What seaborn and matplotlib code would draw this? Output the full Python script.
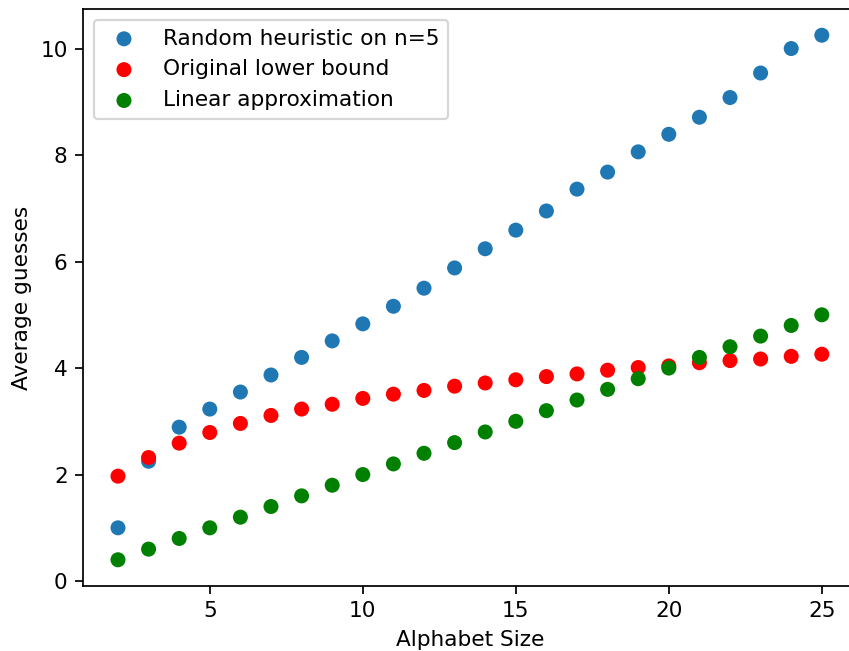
import matplotlib
matplotlib.use("Agg")
import matplotlib.pyplot as plt
import seaborn as sns
import pandas as pd

alphabet_size = list(range(2, 26))
random_heuristic = [1.0, 2.25, 2.89, 3.23, 3.55, 3.87, 4.2, 4.51, 4.83, 5.16, 5.5, 5.88,
                    6.24, 6.59, 6.95, 7.36, 7.68, 8.06, 8.39, 8.71, 9.08, 9.54, 10.0, 10.25]
lower_bound = [1.97, 2.32, 2.59, 2.79, 2.96, 3.11, 3.23, 3.32, 3.43, 3.51, 3.58, 3.66,
               3.72, 3.78, 3.84, 3.89, 3.96, 4.01, 4.04, 4.1, 4.14, 4.17, 4.22, 4.26]
linear_approx = [0.4, 0.6, 0.8, 1.0, 1.2, 1.4, 1.6, 1.8, 2.0, 2.2, 2.4, 2.6,
                 2.8, 3.0, 3.2, 3.4, 3.6, 3.8, 4.0, 4.2, 4.4, 4.6, 4.8, 5.0]

labels = ["Random heuristic on n=5", "Original lower bound", "Linear approximation"]
colors = ["#1f77b4", "red", "green"]

df = pd.DataFrame({
    "n": alphabet_size,
    "random": random_heuristic,
    "lower": lower_bound,
    "linear": linear_approx,
})

dpi = 156
fig = plt.figure(figsize=(849 / dpi, 651 / dpi), dpi=dpi)
ax = fig.add_axes([82.8 / 849, 1 - 586 / 651, (857 - 82.8) / 849, (586 - 9) / 651])

for col, lab, c in zip(["random", "lower", "linear"], labels, colors):
    sns.scatterplot(data=df, x="n", y=col, color=c, label=lab, ax=ax,
                    s=48, linewidth=0, edgecolor="none")

ax.set_xlabel("Alphabet Size")
ax.set_ylabel("Average guesses")
ax.set_xticks([5, 10, 15, 20, 25])
ax.set_yticks([0, 2, 4, 6, 8, 10])
ax.spines["right"].set_visible(False)
ax.legend(loc="upper left")

fig.savefig("out.png", dpi=dpi)
